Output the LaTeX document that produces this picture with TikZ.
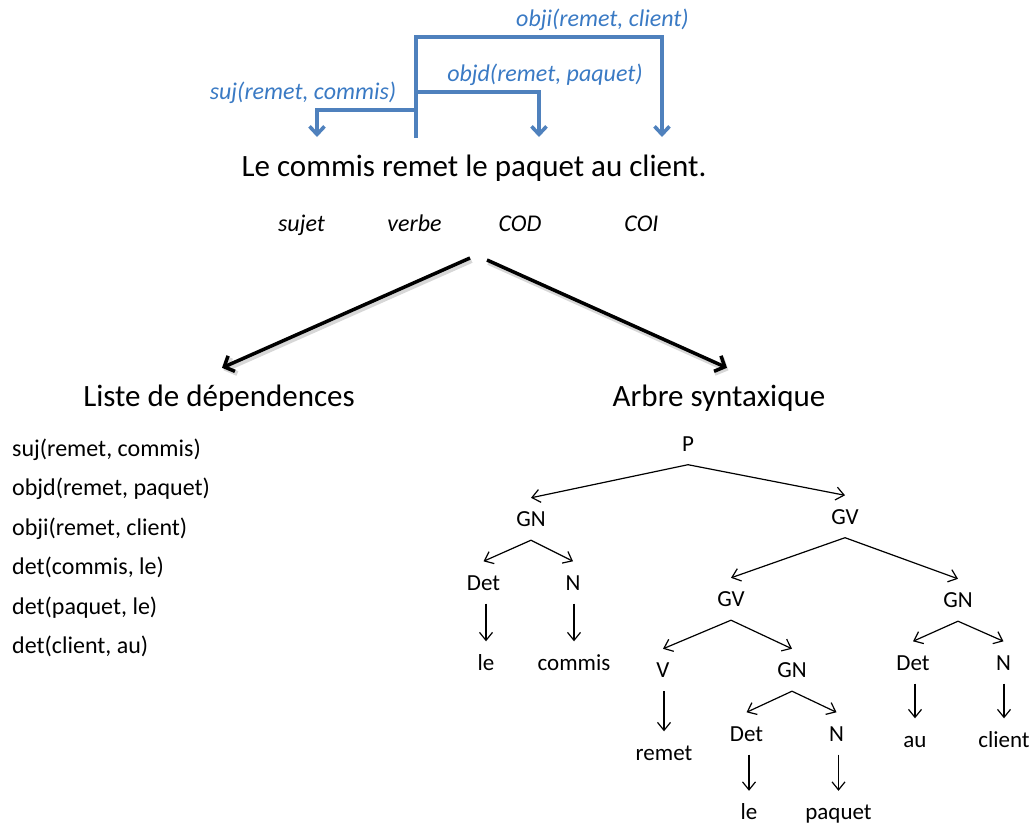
\documentclass[tikz,border=0pt]{standalone}
\usepackage{fontspec}
\setmainfont{Carlito}
\usetikzlibrary{arrows.meta}
\definecolor{depline}{RGB}{79,129,189}
\definecolor{deptext}{RGB}{58,122,196}
\begin{document}
\begin{tikzpicture}[x=1pt,y=-1pt,
  deplabel/.style={anchor=base, text=deptext, font=\fontsize{24}{28}\selectfont\itshape, inner sep=0pt},
  deptrunk/.style={draw=depline, line width=3.6pt},
  deparrow/.style={deptrunk, -{Straight Barb[length=8pt,width=15pt]}},
  role/.style={anchor=base, font=\fontsize{24}{28}\selectfont\itshape, inner sep=0pt},
  sentence/.style={anchor=base, font=\fontsize{31}{36}\selectfont, inner sep=0pt},
  heading/.style={font=\fontsize{31}{36}\selectfont, text height=20pt, text depth=0pt, inner xsep=0pt, inner ysep=18pt},
  bigarrow/.style={line width=3.5pt, -{Straight Barb[length=8pt,width=17pt]}},
  bigshadow/.style={bigarrow, draw=black!45, opacity=0.35, line width=5pt, transform canvas={shift={(1.5pt,-2.5pt)}}},
  item/.style={anchor=base west, font=\fontsize{24}{28}\selectfont, inner sep=0pt},
  tn/.style={font=\fontsize{23}{27}\selectfont, text height=15pt, text depth=0pt, minimum height=42pt, inner xsep=0pt, inner ysep=0pt},
  tedge/.style={line width=1.2pt, -{Straight Barb[length=8pt,width=13pt]}},
]
\useasboundingbox (0,0) rectangle (1035,824);

% --- dependency arcs above the sentence ---
\node[deplabel] (lab-obji) at (602.5,26.7) {obji(remet, client)};
\node[deplabel] (lab-objd) at (545,81.7) {objd(remet, paquet)};
\node[deplabel] (lab-suj) at (303,100) {suj(remet, commis)};

\coordinate (remet-w) at (416,138);
\coordinate (commis-w) at (317,137);
\coordinate (paquet-w) at (539,137);
\coordinate (client-w) at (662,137);
\coordinate (trunk-top) at (416,37);
\coordinate (j-objd) at (416,92);
\coordinate (j-suj) at (416,110);

\draw[deparrow] (remet-w) -- (trunk-top) -| (client-w);
\draw[deparrow] (j-objd) -| (paquet-w);
\draw[deparrow] (j-suj) -| (commis-w);

% --- sentence and grammatical roles ---
\node[sentence] (phrase) at (474,176) {Le commis remet le paquet au client.};
\node[role] (r-sujet) at (301.5,231.7) {sujet};
\node[role] (r-verbe) at (414.5,231.7) {verbe};
\node[role] (r-cod) at (520,231.7) {COD};
\node[role] (r-coi) at (641.5,231.7) {COI};

% --- two representations ---
\node[heading] (liste) at (219,396) {Liste de dépendences};
\node[heading] (arbre) at (719,396) {Arbre syntaxique};

\coordinate (fork-l) at (470,258);
\coordinate (fork-r) at (487,260);
\draw[bigshadow] (fork-l) -- ([xshift=3pt]liste.north);
\draw[bigshadow] (fork-r) -- ([xshift=8pt]arbre.north);
\draw[bigarrow] (fork-l) -- ([xshift=3pt]liste.north);
\draw[bigarrow] (fork-r) -- ([xshift=8pt]arbre.north);

% --- dependency list ---
\node[item] (d1) at (12,456) {suj(remet, commis)};
\node[item] (d2) at (12,495.5) {objd(remet, paquet)};
\node[item] (d3) at (12,535) {obji(remet, client)};
\node[item] (d4) at (12,574.5) {det(commis, le)};
\node[item] (d5) at (12,614) {det(paquet, le)};
\node[item] (d6) at (12,653.5) {det(client, au)};

% --- syntax tree ---
\node[tn] (P) at (688,443.5) {P};
\node[tn] (GN1) at (531,519) {GN};
\node[tn] (GV1) at (845,516.5) {GV};
\node[tn] (Det1) at (483.5,582.5) {Det};
\node[tn] (N1) at (573,582.5) {N};
\node[tn] (le1) at (486,662.5) {le};
\node[tn] (commis) at (574,662.5) {commis};
\node[tn] (GV2) at (731,599) {GV};
\node[tn] (GN3) at (958,600) {GN};
\node[tn] (V) at (663,670) {V};
\node[tn] (GN2) at (792,670) {GN};
\node[tn] (remet) at (664,752.5) {remet};
\node[tn] (Det2) at (746.5,733.5) {Det};
\node[tn] (N2) at (836.5,733.5) {N};
\node[tn] (le2) at (749,812) {le};
\node[tn] (paquet) at (838.5,812) {paquet};
\node[tn] (Det3) at (913,662.5) {Det};
\node[tn] (N3) at (1003.5,662.5) {N};
\node[tn] (au) at (915,739.5) {au};
\node[tn] (client) at (1004,739.5) {client};

\draw[tedge] (P.south) -- (GN1.north);
\draw[tedge] (P.south) -- (GV1.north);
\draw[tedge] (GN1.south) -- (Det1.north);
\draw[tedge] (GN1.south) -- (N1.north);
\draw[tedge] (GV1.south) -- (GV2.north);
\draw[tedge] (GV1.south) -- (GN3.north);
\draw[tedge] (GV2.south) -- (V.north);
\draw[tedge] (GV2.south) -- (GN2.north);
\draw[tedge] (GN2.south) -- (Det2.north);
\draw[tedge] (GN2.south) -- (N2.north);
\draw[tedge] (GN3.south) -- (Det3.north);
\draw[tedge] (GN3.south) -- (N3.north);

\draw[tedge] (le1.north |- Det1.south) -- (le1.north);
\draw[tedge] (commis.north |- N1.south) -- (commis.north);
\draw[tedge] (remet.north |- V.south) -- (remet.north);
\draw[tedge] (le2.north |- Det2.south) -- (le2.north);
\draw[tedge] (paquet.north |- N2.south) -- (paquet.north);
\draw[tedge] (au.north |- Det3.south) -- (au.north);
\draw[tedge] (client.north |- N3.south) -- (client.north);
\end{tikzpicture}
\end{document}
